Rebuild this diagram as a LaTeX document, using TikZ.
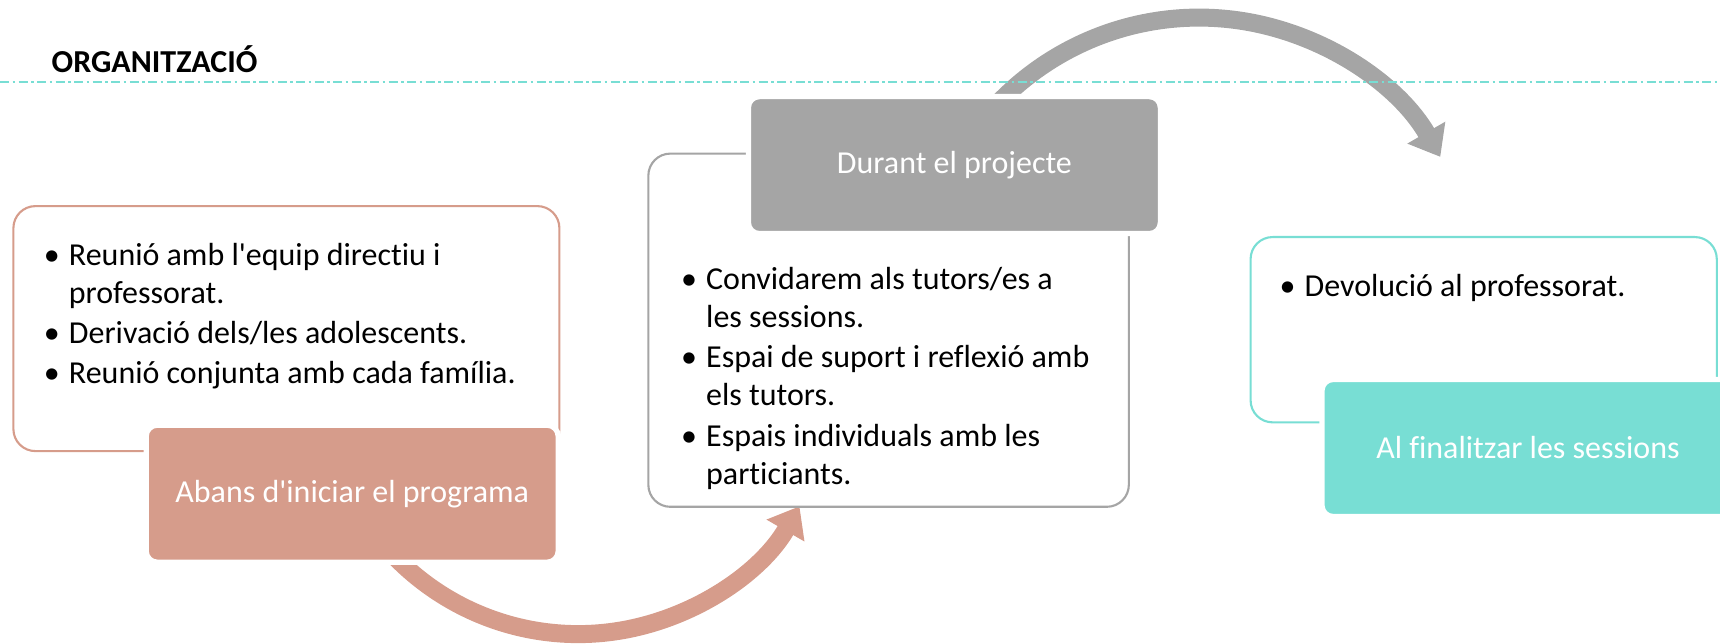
\documentclass[tikz,border=0pt]{standalone}
\usepackage{fontspec}
\setmainfont[Ligatures=NoCommon]{Carlito}
\usetikzlibrary{arrows.meta}

\definecolor{rosa}{HTML}{D69C8B}
\definecolor{gris}{HTML}{A5A5A5}
\definecolor{turq}{HTML}{78DED4}

\newcommand\bul{\makebox[2.5mm][l]{\textbullet}}
\newcommand\ind{\hspace*{2.5mm}}
\newcommand\ap{\textquotesingle}

\tikzset{
  caixa/.style={draw, fill=white, line width=0.6pt, rounded corners=2.2mm},
  etiq/.style={draw=white, line width=1.5pt, rounded corners=1.1mm, text=white,
    minimum width=41.2mm, minimum height=13.7mm, font=\fontsize{9.1}{10.8}\selectfont},
  punts/.style={anchor=north west, inner sep=0pt, align=left, font=\fontsize{9.1}{10.8}\selectfont},
  fletxa/.style={line width=1.8mm, -{Triangle[length=2.8mm, width=4.2mm]}}
}

\begin{document}
\begin{tikzpicture}[x=1mm, y=1mm]
      \useasboundingbox (0,0) rectangle (172,-64.4);
      % fletxes corbes
      \coordinate (p1) at (38.23,-54.28);
      \coordinate (p2) at (98.56,-11.71);
      \draw[fletxa, rosa] (p1) arc[start angle=220, end angle=330, radius=25.56];
      \draw[fletxa, gris] (p2) arc[start angle=140, end angle=30, radius=27.86];
      % titol i linia
      \node[anchor=base west, inner sep=0pt, font=\fontsize{9.1}{11}\selectfont\bfseries] (titol) at (5.1,-7.25) {ORGANITZACIÓ};
      \draw[turq, line width=0.75pt, dash pattern=on 0.9mm off 0.35mm on 0.25mm off 0.35mm] (0,-8.2) -- (172,-8.2);
      % abans
      \node[caixa, draw=rosa, minimum width=54.6mm, minimum height=24.5mm] (abans) at (28.64,-32.86) {};
      \node[punts] (abansTxt) at ([xshift=3.09mm, yshift=-3.3mm]abans.north west)
        {\strut\bul Reunió amb l\ap equip directiu i\\
         \ind professorat.\\[0.6pt]
         \bul Derivació dels/les adolescents.\\[0.6pt]
         \bul Reunió conjunta amb cada família.};
      \node[etiq, fill=rosa] (abansLab) at (35.22,-49.37) {Abans d\ap iniciar el programa};
      % durant
      \node[caixa, draw=gris, minimum width=48.05mm, minimum height=35.32mm] (durant) at (88.86,-33.02) {};
      \node[punts] (durantTxt) at ([xshift=3.32mm, yshift=-10.95mm]durant.north west)
        {\strut\bul Convidarem als tutors/es a\\
         \ind les sessions.\\[0.7pt]
         \bul Espai de suport i reflexió amb\\
         \ind els tutors.\\[0.7pt]
         \bul Espais individuals amb les\\
         \ind particiants.};
      \node[etiq, fill=gris] (durantLab) at (95.44,-16.51) {Durant el projecte};
      % final
      \node[caixa, draw=turq, minimum width=46.62mm, minimum height=18.53mm] (final) at (148.37,-32.97) {};
      \node[punts] (finalTxt) at ([xshift=2.94mm, yshift=-3.35mm]final.north west)
        {\strut\bul Devolució al professorat.};
      \node[etiq, fill=turq] (finalLab) at (152.8,-44.8) {Al finalitzar les sessions};
\end{tikzpicture}
\end{document}
